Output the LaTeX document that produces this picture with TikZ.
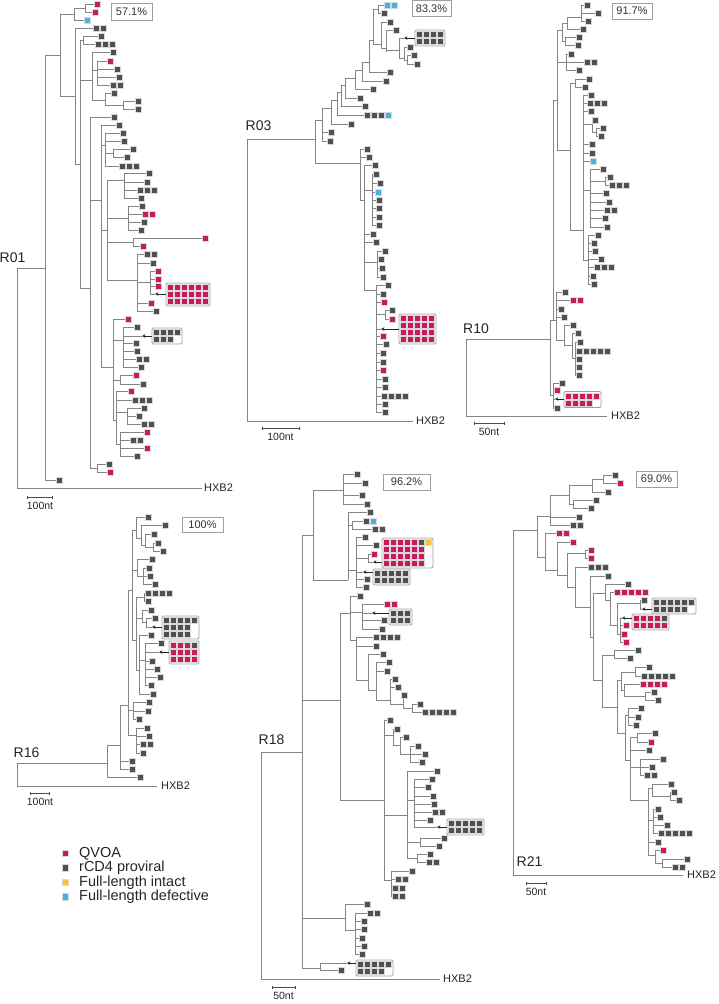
\documentclass[tikz,border=0pt]{standalone}
\usepackage{fontspec}
\setmainfont{Liberation Sans}
\usetikzlibrary{arrows.meta}
\definecolor{colm}{HTML}{CB1A5C}
\definecolor{colg}{HTML}{505050}
\definecolor{colb}{HTML}{45B3E6}
\definecolor{coly}{HTML}{F6C535}
\definecolor{brc}{HTML}{858585}
\tikzset{
  br/.style={draw=brc, line width=0.7pt},
  sqline/.style={draw=white!70!gray, line width=0.3pt},
  boxst/.style={draw=gray!75, line width=0.8pt, fill=white, rounded corners=1.2pt},
  arrst/.style={draw=black!85, line width=0.5pt, -{Stealth[length=3.4pt,width=3.4pt]}},
  sbst/.style={draw=black!70, line width=0.5pt},
  pct/.style={draw=gray!75, line width=0.6pt, fill=white, inner sep=0pt, font=\fontsize{11}{12}\selectfont, text=black!80},
  rlab/.style={font=\fontsize{14}{15}\selectfont, text=black!85, inner sep=0pt},
  hxlab/.style={font=\fontsize{11}{12}\selectfont, text=black!85, inner sep=0pt, anchor=west},
  sclab/.style={font=\fontsize{10.5}{11}\selectfont, text=black!85, inner sep=0pt},
  leglab/.style={font=\fontsize{14.5}{15}\selectfont, text=black!85, inner sep=0pt, anchor=west}
}
\newcommand{\tvl}[3]{\draw[br] (#1,#2) -- (#1,#3);}
\newcommand{\thl}[3]{\draw[br] (#1,#3) -- (#2,#3);}
\newcommand{\tlf}[4]{\draw[br] (#1,#3) -- ({#2-3},#3);
  \foreach \c [count=\i from 0] in {#4} {\filldraw[fill=col\c,sqline] ({#2-3+7*\i},{#3-3}) rectangle ++(6,6);}}
\newcommand{\tgr}[3]{\foreach \c [count=\i from 0] in {#3} {\filldraw[fill=col\c,sqline] ({#1+1.5+7*\i},{#2-0.25}) rectangle ++(6,6);}}
\newcommand{\tbx}[4]{\draw[boxst] (#1,#2) rectangle ++({7*#3+2},{7*#4+2});}
\newcommand{\tar}[3]{\draw[arrst] (#1,#3) -- (#2,#3);}
\newcommand{\tsb}[3]{\draw[sbst] (#1,#3) -- (#2,#3) (#1,{#3-1.5}) -- (#1,{#3+1.5}) (#2,{#3-1.5}) -- (#2,{#3+1.5});}
\begin{document}
\begin{tikzpicture}[x=1pt,y=-1pt]
\useasboundingbox[fill=white] (0,0) rectangle (718,1004);

% ================= R01 =================
\draw[br] (17,268) -- (17,488) -- (202,488);
\node[hxlab] (hx01) at (204,488) {HXB2};
\node[rlab] (r01) at (12.5,258) {R01};
\thl{17}{45}{268}
\tvl{45}{55}{480}
\tlf{45}{59}{480}{g}
\thl{45}{60}{55}
\tvl{60}{14}{96}
\thl{60}{74}{14}
\tvl{74}{8}{20}
\thl{74}{85}{8}
\tvl{85}{4}{12}
\tlf{85}{97}{4}{m}
\tlf{85}{95}{12}{m}
\tlf{74}{87}{20}{b}
\thl{60}{75}{96}
\tvl{75}{28}{164}
\tlf{75}{96}{28}{g,g}
\thl{75}{80}{164}
\tvl{80}{40}{288}
\thl{80}{83}{40}
\tvl{83}{36}{44}
\tlf{83}{101}{36}{g}
\tlf{83}{98}{44}{g,g,g}
\thl{80}{92}{80}
\tvl{92}{52}{100}
\tlf{92}{113}{52}{g}
\thl{92}{97}{70}
\tvl{97}{61}{85}
\tlf{97}{110}{61}{m}
\tlf{97}{117}{69}{g}
\tlf{97}{119}{77}{g}
\tlf{97}{113}{85}{g,g}
\thl{92}{105}{100}
\tvl{105}{93}{105}
\tlf{105}{114}{93}{g}
\thl{105}{123}{105}
\tvl{123}{101}{109}
\tlf{123}{138}{101}{g}
\tlf{123}{138}{109}{g}
\thl{80}{90}{288}
\tvl{90}{117}{468}
\tlf{90}{114}{117}{g}
\thl{90}{101}{200}
\tvl{101}{125}{367}
\tlf{101}{119}{125}{g}
\thl{101}{105}{145}
\tvl{105}{133}{166}
\tlf{105}{123}{133}{g}
\tlf{105}{124}{141}{g}
\thl{105}{113}{153}
\tvl{113}{149}{157}
\tlf{113}{133}{149}{g}
\tlf{113}{127}{157}{g}
\tlf{105}{122}{166}{g,g,g}
\thl{101}{107}{230}
\tvl{107}{180}{280}
\thl{107}{124}{180}
\tvl{124}{173}{198}
\tlf{124}{149}{173}{g}
\tlf{124}{147}{182}{g}
\tlf{124}{140}{190}{g,g,g}
\tlf{124}{141}{198}{g}
\thl{107}{128}{218}
\tvl{128}{206}{230}
\tlf{128}{142}{206}{g}
\tlf{128}{145}{214}{m,m}
\tlf{128}{144}{222}{g}
\tlf{128}{141}{230}{g}
\thl{107}{133}{242}
\tvl{133}{238}{246}
\tlf{133}{205}{238}{m}
\tlf{133}{143}{246}{m}
\thl{107}{137}{280}
\tvl{137}{254}{311}
\tlf{137}{147}{254}{g,g}
\tlf{137}{153}{263}{g}
\thl{137}{150}{282}
\tvl{150}{271}{294}
\tlf{150}{158}{271}{m}
\tlf{150}{158}{279}{m}
\tlf{150}{158}{286}{m}
\thl{150}{155}{294}
\tlf{137}{151}{303}{m}
\tlf{137}{156}{311}{g}
\tbx{166}{283}{6}{3}
\tgr{166}{284.75}{m,m,m,m,m,m}
\tgr{166}{291.75}{m,m,m,m,m,m}
\tgr{166}{298.75}{m,m,m,m,m,m}
\tar{166}{155}{294}
\thl{101}{113}{367}
\tvl{113}{319}{420}
\tlf{113}{128}{319}{m}
\thl{113}{123}{340}
\tvl{123}{327}{367}
\tlf{123}{137}{327}{g}
\thl{123}{142}{336}
\tlf{123}{136}{343}{g}
\tlf{123}{137}{351}{g}
\tlf{123}{139}{359}{g,g}
\tlf{123}{141}{367}{g}
\tbx{152}{328}{4}{2}
\tgr{152}{329.75}{g,g,g,g}
\tgr{152}{336.75}{g,g,g}
\tar{152}{142}{336}
\thl{113}{120}{380}
\tvl{120}{375}{384}
\tlf{120}{136}{375}{m}
\tlf{120}{143}{384}{g}
\thl{113}{116}{420}
\tvl{116}{391}{444}
\tlf{116}{131}{391}{m}
\tlf{116}{135}{400}{g,g,g}
\thl{116}{127}{412}
\tvl{127}{408}{424}
\tlf{127}{144}{408}{g}
\tlf{127}{139}{416}{g}
\tlf{127}{144}{424}{g,g}
\thl{116}{120}{444}
\tvl{120}{432}{456}
\tlf{120}{147}{432}{m}
\tlf{120}{133}{440}{g,g}
\tlf{120}{147}{448}{m}
\tlf{120}{137}{456}{g}
\thl{90}{97}{468}
\tvl{97}{464}{472}
\tlf{97}{109}{464}{g}
\tlf{97}{110}{472}{m}
\tsb{27}{52}{497}
\node[sclab] (s01) at (40,506) {100nt};
\node[pct, minimum width=41pt, minimum height=17pt] (p01) at (131.5,11.5) {57.1\%};

% ================= R03 =================
\draw[br] (247,139) -- (247,421) -- (413,421);
\node[hxlab] (hx03) at (416,421) {HXB2};
\node[rlab] (r03) at (258.5,126) {R03};
\thl{247}{315}{139}
\tvl{315}{120}{163}
\thl{315}{322}{120}
\tvl{322}{108}{141}
\tlf{322}{331}{132}{g}
\tlf{322}{330}{141}{g}
\thl{322}{331}{108}
\tvl{331}{100}{124}
\tlf{331}{351}{124}{g}
\thl{331}{337}{100}
\tvl{337}{92}{115}
\tlf{337}{367}{115}{g,g,g,b}
\thl{337}{341}{92}
\tvl{341}{85}{106}
\tlf{341}{365}{106}{g}
\thl{341}{345}{85}
\tvl{345}{78}{98}
\tlf{345}{360}{98}{g}
\thl{345}{355}{78}
\tvl{355}{70}{89}
\tlf{355}{373}{89}{g}
\thl{355}{362}{70}
\tvl{362}{62}{81}
\tlf{362}{386}{81}{g}
\thl{362}{369}{62}
\tvl{369}{40}{72}
\tlf{369}{390}{72}{g}
\thl{369}{373}{40}
\tvl{373}{9}{44}
\thl{373}{378}{9}
\tvl{378}{5}{13}
\tlf{378}{387}{5}{b,b}
\tlf{378}{384}{13}{g}
\thl{373}{381}{44}
\tvl{381}{22}{48}
\tlf{381}{390}{22}{g}
\thl{381}{386}{48}
\tvl{386}{30}{52}
\tlf{386}{396}{30}{g}
\thl{386}{399}{50}
\tvl{399}{38}{58}
\thl{399}{404}{38}
\thl{399}{404}{58}
\tvl{404}{47}{60}
\tlf{404}{410}{47}{g}
\thl{404}{407}{60}
\tvl{407}{55}{64}
\tlf{407}{414}{55}{g}
\tlf{407}{417}{64}{g}
\tbx{415}{30}{4}{2}
\tgr{415}{31.75}{g,g,g,g}
\tgr{415}{38.75}{g,g,g,g}
\tar{415}{404}{38}
\thl{315}{360}{163}
\tvl{360}{149}{200}
\tlf{360}{367}{149}{g}
\tlf{360}{369}{157}{g}
\thl{360}{364}{200}
\tvl{364}{165}{290}
\tlf{364}{375}{165}{g}
\thl{364}{372}{190}
\tvl{372}{174}{225}
\tlf{372}{376}{174}{g}
\tlf{372}{380}{183}{g}
\tlf{372}{378}{192}{b}
\tlf{372}{379}{200}{g}
\tlf{372}{379}{208}{g}
\tlf{372}{379}{217}{g}
\tlf{372}{379}{225}{g}
\tlf{364}{373}{234}{g}
\tlf{364}{376}{242}{g}
\thl{364}{377}{262}
\tvl{377}{251}{277}
\tlf{377}{385}{251}{g}
\tlf{377}{381}{259}{g}
\tlf{377}{382}{268}{g}
\tlf{377}{383}{277}{g}
\thl{364}{376}{290}
\tvl{376}{285}{412}
\tlf{376}{388}{285}{g}
\tlf{376}{383}{294}{g}
\tlf{376}{384}{302}{m}
\thl{376}{385}{314}
\tvl{385}{310}{319}
\tlf{385}{392}{310}{g}
\tlf{385}{392}{319}{m}
\thl{376}{381}{329}
\tlf{376}{383}{336}{m}
\tlf{376}{386}{344}{g}
\tlf{376}{383}{353}{g}
\tlf{376}{383}{362}{g}
\tlf{376}{383}{370}{m}
\tlf{376}{385}{379}{g}
\tlf{376}{385}{387}{g}
\tlf{376}{384}{396}{g,g,g,g}
\tlf{376}{385}{404}{g}
\tlf{376}{385}{412}{g}
\tbx{399}{314}{5}{4}
\tgr{399}{315.75}{m,m,m,m,m}
\tgr{399}{322.75}{m,m,m,m,m}
\tgr{399}{329.75}{m,m,m,m,m}
\tgr{399}{336.75}{m,m,m,m,m}
\tar{399}{381}{329}
\tsb{262}{299}{428}
\node[sclab] (s03) at (280.5,437) {100nt};
\node[pct, minimum width=39pt, minimum height=16pt] (p03) at (431.5,8.5) {83.3\%};

% ================= R10 =================
\draw[br] (466,339) -- (466,416) -- (607,416);
\node[hxlab] (hx10) at (611,416) {HXB2};
\node[rlab] (r10) at (476,329) {R10};
\thl{466}{550}{339}
\tvl{550}{320}{395}
\thl{550}{553}{320}
\tvl{553}{100}{320}
\thl{553}{557}{100}
\tvl{557}{30}{150}
\thl{557}{562}{30}
\tvl{562}{23}{41}
\thl{562}{567}{23}
\tvl{567}{17}{29}
\thl{567}{581}{17}
\tvl{581}{5}{21}
\tlf{581}{587}{5}{g}
\tlf{581}{598}{13}{g}
\tlf{581}{588}{21}{g}
\tlf{567}{583}{29}{g}
\thl{562}{565}{41}
\tvl{565}{37}{45}
\tlf{565}{579}{37}{g}
\tlf{565}{578}{45}{g}
\thl{557}{566}{62}
\tvl{566}{54}{70}
\tlf{566}{571}{54}{g}
\tlf{566}{587}{62}{g,g}
\tlf{566}{579}{70}{g}
\thl{557}{570}{150}
\tvl{570}{83}{230}
\thl{570}{575}{83}
\tvl{575}{79}{87}
\tlf{575}{589}{79}{g}
\tlf{575}{585}{87}{g}
\thl{570}{583}{230}
\tvl{583}{95}{260}
\tlf{583}{591}{95}{g}
\tlf{583}{590}{103}{g,g,g}
\tlf{583}{591}{111}{g}
\thl{583}{592}{124}
\tvl{592}{120}{132}
\tlf{592}{595}{120}{g}
\thl{592}{596}{132}
\tvl{596}{128}{136}
\tlf{596}{603}{128}{g}
\tlf{596}{601}{136}{g}
\tlf{583}{592}{144}{g}
\tlf{583}{592}{153}{g}
\tlf{583}{593}{161}{b}
\thl{583}{590}{190}
\tvl{590}{169}{227}
\tlf{590}{603}{169}{g}
\thl{590}{605}{181}
\tvl{605}{177}{185}
\tlf{605}{610}{177}{g}
\tlf{605}{612}{185}{g,g,g}
\tlf{590}{606}{193}{g}
\tlf{590}{609}{202}{g}
\tlf{590}{607}{210}{g,g}
\tlf{590}{605}{218}{g}
\tlf{590}{607}{227}{g}
\thl{583}{588}{260}
\tvl{588}{235}{284}
\tlf{588}{598}{235}{g}
\tlf{588}{594}{243}{g}
\tlf{588}{595}{251}{g}
\tlf{588}{601}{259}{g}
\tlf{588}{597}{267}{g,g,g}
\tlf{588}{593}{276}{g}
\tlf{588}{594}{284}{g}
\thl{553}{556}{320}
\tvl{556}{292}{340}
\tlf{556}{565}{292}{g}
\tlf{556}{573}{300}{m,m}
\tlf{556}{561}{309}{g}
\tlf{556}{564}{317}{g}
\thl{556}{564}{340}
\tvl{564}{325}{345}
\tlf{564}{573}{325}{g}
\thl{564}{572}{345}
\tvl{572}{333}{358}
\tlf{572}{578}{333}{g}
\thl{572}{575}{358}
\tvl{575}{342}{375}
\tlf{575}{580}{342}{g}
\tlf{575}{579}{351}{g,g,g,g,g}
\tlf{575}{579}{359}{g}
\tlf{575}{579}{367}{g}
\tlf{575}{579}{375}{g}
\thl{550}{553}{395}
\tvl{553}{383}{408}
\tlf{553}{562}{383}{g}
\tlf{553}{557}{390}{m}
\thl{553}{555}{399}
\tlf{553}{557}{408}{g}
\tbx{564}{391.5}{5}{2}
\tgr{564}{393.25}{m,m,m,m,m}
\tgr{564}{400.25}{m,m,m,m}
\tar{564}{555}{399}
\tsb{474}{504}{423}
\node[sclab] (s10) at (489,432) {50nt};
\node[pct, minimum width=40pt, minimum height=16pt] (p10) at (632,11) {91.7\%};

% ================= R16 =================
\draw[br] (17,763) -- (17,786) -- (157,786);
\node[hxlab] (hx16) at (161,786) {HXB2};
\node[rlab] (r16) at (26.5,753) {R16};
\thl{17}{107}{763}
\tvl{107}{745}{777}
\tlf{107}{140}{777}{g}
\thl{107}{120}{745}
\tvl{120}{705}{769}
\tlf{120}{132}{761}{g}
\tlf{120}{132}{769}{g}
\thl{120}{128}{705}
\tvl{128}{590}{735}
\thl{128}{133}{710}
\tvl{133}{702}{719}
\tlf{133}{149}{702}{g}
\tlf{133}{148}{711}{g}
\tlf{133}{139}{719}{g}
\thl{128}{136}{735}
\tvl{136}{728}{753}
\tlf{136}{147}{728}{g}
\tlf{136}{149}{736}{g}
\tlf{136}{143}{744}{g,g}
\tlf{136}{143}{753}{g}
\thl{128}{132}{590}
\tvl{132}{530}{640}
\thl{132}{136}{530}
\tvl{136}{517}{538}
\tlf{136}{148}{517}{g}
\thl{136}{141}{538}
\tvl{141}{525}{545}
\tlf{141}{165}{525}{g}
\thl{141}{145}{545}
\tvl{145}{534}{547}
\tlf{145}{154}{534}{g}
\thl{145}{153}{547}
\tvl{153}{543}{551}
\tlf{153}{158}{543}{g}
\tlf{153}{163}{551}{g}
\thl{132}{137}{570}
\tvl{137}{559}{576}
\tlf{137}{152}{559}{g}
\thl{137}{143}{576}
\tvl{143}{568}{584}
\tlf{143}{149}{568}{g}
\tlf{143}{150}{576}{g}
\tlf{143}{155}{584}{g}
\thl{132}{136}{640}
\tvl{136}{597}{670}
\thl{136}{144}{597}
\tvl{144}{593}{601}
\tlf{144}{148}{593}{g,g,g,g}
\tlf{144}{148}{601}{g}
\thl{136}{142}{618}
\tvl{142}{610}{622}
\tlf{142}{151}{610}{g}
\thl{142}{146}{622}
\tvl{146}{618}{627}
\tlf{146}{155}{618}{g}
\thl{146}{152}{627}
\thl{136}{139}{670}
\tvl{139}{635}{694}
\tlf{139}{151}{635}{g}
\thl{139}{145}{660}
\tvl{145}{643}{685}
\tlf{145}{161}{643}{g}
\thl{145}{159}{652}
\tlf{145}{152}{661}{g}
\tlf{145}{157}{669}{g}
\tlf{145}{160}{677}{g}
\tlf{145}{151}{685}{g}
\tlf{139}{153}{694}{g}
\tbx{162}{616}{5}{3}
\tgr{162}{617.75}{g,g,g,g,g}
\tgr{162}{624.75}{g,g,g,g}
\tgr{162}{631.75}{g,g,g,g}
\tar{162}{152}{627}
\tbx{169}{641}{4}{3}
\tgr{169}{642.75}{m,m,m,g}
\tgr{169}{649.75}{m,m,m,m}
\tgr{169}{656.75}{m,m,m,m}
\tar{169}{159}{652}
\tsb{30}{49}{793}
\node[sclab] (s16) at (40,802) {100nt};
\node[pct, minimum width=41pt, minimum height=15pt] (p16) at (202.5,524.5) {100\%};

% ================= R18 =================
\draw[br] (261,752) -- (261,979) -- (440,979);
\node[hxlab] (hx18) at (443,979) {HXB2};
\node[rlab] (r18) at (271.5,740) {R18};
\thl{261}{302}{752}
\tvl{302}{535}{968}
\thl{302}{313}{535}
\tvl{313}{490}{580}
\thl{313}{343}{490}
\tvl{343}{474}{504}
\tlf{343}{357}{474}{g}
\tlf{343}{365}{483}{g}
\tlf{343}{362}{495}{g}
\tlf{343}{367}{504}{g}
\thl{313}{348}{580}
\tvl{348}{512}{580}
\tlf{348}{370}{512}{g}
\thl{348}{352}{525}
\tvl{352}{521}{529}
\tlf{352}{366}{521}{g,b}
\tlf{352}{375}{529}{g,g}
\thl{348}{356}{570}
\tvl{356}{537}{587}
\tlf{356}{365}{537}{g}
\tlf{356}{376}{545}{g}
\thl{356}{368}{558}
\tvl{368}{554}{562}
\tlf{368}{374}{554}{m}
\thl{368}{373}{562}
\thl{356}{363}{572}
\tlf{356}{367}{579}{g}
\tlf{356}{366}{587}{g}
\tbx{382}{538}{7}{4}
\tgr{382}{539.75}{m,m,m,m,m,g,y}
\tgr{382}{546.75}{m,m,m,m,m,m}
\tgr{382}{553.75}{m,m,m,m,m,m}
\tgr{382}{560.75}{m,m,m,m,m,m}
\tar{382}{373}{562}
\tbx{373}{569}{5}{2}
\tgr{373}{570.75}{g,g,g,g,g}
\tgr{373}{577.75}{g,g,g,g,g}
\tar{373}{363}{572}
\thl{302}{340}{700}
\tvl{340}{613}{800}
\thl{340}{350}{613}
\tvl{350}{596}{640}
\tlf{350}{360}{596}{g}
\thl{350}{362}{612}
\tvl{362}{604}{629}
\tlf{362}{387}{604}{m,m}
\thl{362}{372}{613}
\tlf{362}{384}{620}{g}
\tlf{362}{382}{629}{g}
\tbx{389}{609}{3}{2}
\tgr{389}{610.75}{g,g,g}
\tgr{389}{617.75}{g,g,g}
\tar{389}{372}{613}
\thl{350}{356}{640}
\tvl{356}{637}{680}
\tlf{356}{376}{637}{g,g,g,g}
\tlf{356}{376}{646}{g}
\thl{356}{368}{680}
\tvl{368}{654}{690}
\tlf{368}{383}{654}{g}
\thl{368}{376}{690}
\tvl{376}{662}{700}
\tlf{376}{389}{662}{g}
\tlf{376}{387}{671}{g}
\thl{376}{390}{700}
\tvl{390}{679}{704}
\tlf{390}{395}{679}{g}
\tlf{390}{398}{687}{g}
\thl{390}{403}{704}
\tvl{403}{695}{708}
\tlf{403}{404}{695}{g}
\thl{403}{412}{708}
\tvl{412}{704}{712}
\tlf{412}{420}{704}{g}
\tlf{412}{425}{712}{g,g,g,g,g}
\thl{340}{384}{800}
\tvl{384}{720}{880}
\tlf{384}{390}{720}{g}
\thl{384}{393}{735}
\tvl{393}{729}{745}
\tlf{393}{397}{729}{g}
\thl{393}{400}{745}
\tvl{400}{737}{754}
\tlf{400}{406}{737}{g}
\thl{400}{410}{754}
\tvl{410}{746}{762}
\tlf{410}{418}{746}{g}
\tlf{410}{425}{754}{g}
\tlf{410}{422}{762}{g}
\thl{384}{407}{815}
\tvl{407}{771}{858}
\tlf{407}{437}{771}{g}
\thl{407}{414}{800}
\tvl{414}{779}{827}
\tlf{414}{432}{779}{g}
\tlf{414}{428}{787}{g}
\tlf{414}{433}{796}{g}
\tlf{414}{434}{804}{g}
\tlf{414}{435}{812}{g,g}
\tlf{414}{430}{820}{g}
\thl{414}{437}{827}
\tbx{447}{819}{5}{2}
\tgr{447}{820.75}{g,g,g,g,g}
\tgr{447}{827.75}{g,g,g,g,g}
\tar{447}{437}{827}
\thl{407}{420}{842}
\tvl{420}{838}{846}
\tlf{420}{444}{838}{g}
\tlf{420}{439}{846}{g}
\thl{407}{417}{858}
\tvl{417}{854}{862}
\tlf{417}{430}{854}{g}
\tlf{417}{429}{862}{g,g}
\thl{384}{391}{880}
\tvl{391}{871}{896}
\tlf{391}{412}{871}{g}
\tlf{391}{398}{879}{g,g}
\tlf{391}{395}{888}{g,g}
\tlf{391}{395}{896}{g,g}
\thl{302}{345}{918}
\tvl{345}{904}{930}
\tlf{345}{367}{904}{g}
\thl{345}{355}{930}
\tvl{355}{913}{954}
\tlf{355}{370}{913}{g,g}
\tlf{355}{364}{921}{g}
\tlf{355}{364}{929}{g}
\tlf{355}{362}{938}{g}
\tlf{355}{364}{946}{g}
\tlf{355}{362}{954}{g}
\thl{302}{320}{968}
\tvl{320}{963}{970}
\thl{320}{347}{963}
\tlf{320}{341}{970}{g}
\tbx{356}{960}{5}{2}
\tgr{356}{961.75}{g,g,g,g,g}
\tgr{356}{968.75}{g,g,g,g}
\tar{356}{347}{963}
\tsb{272}{295}{987}
\node[sclab] (s18) at (283.5,996) {50nt};
\node[pct, minimum width=47pt, minimum height=16pt] (p18) at (406.5,482) {96.2\%};

% ================= R21 =================
\draw[br] (513,530) -- (513,875) -- (683,875);
\node[hxlab] (hx21) at (687,875) {HXB2};
\node[rlab] (r21) at (529.5,862) {R21};
\thl{513}{537}{530}
\tvl{537}{516}{557}
\thl{537}{550}{516}
\tvl{550}{495}{525}
\thl{550}{569}{495}
\tvl{569}{485}{504}
\thl{569}{592}{485}
\tvl{592}{479}{492}
\thl{592}{603}{479}
\tvl{603}{475}{483}
\tlf{603}{615}{475}{g}
\tlf{603}{620}{483}{m}
\tlf{592}{608}{492}{g}
\thl{569}{573}{504}
\tvl{573}{500}{508}
\tlf{573}{596}{500}{g}
\tlf{573}{591}{508}{g}
\tlf{550}{579}{517}{g}
\tlf{550}{573}{525}{g,g}
\thl{537}{545}{557}
\tvl{545}{533}{570}
\tlf{545}{559}{533}{m,m}
\thl{545}{557}{570}
\tvl{557}{542}{575}
\tlf{557}{573}{542}{m}
\thl{557}{567}{575}
\tvl{567}{553}{587}
\thl{567}{585}{553}
\tvl{585}{550}{558}
\tlf{585}{591}{550}{m}
\tlf{585}{591}{558}{m}
\thl{567}{575}{587}
\tvl{575}{567}{607}
\tlf{575}{591}{567}{g,g,g}
\thl{575}{590}{607}
\tvl{590}{576}{637}
\tlf{590}{608}{576}{g}
\thl{590}{593}{637}
\tvl{593}{593}{680}
\thl{593}{605}{593}
\tvl{605}{584}{600}
\tlf{605}{628}{584}{g}
\thl{605}{610}{600}
\tvl{610}{592}{625}
\tlf{610}{617}{592}{m,m,m,m,m}
\thl{610}{617}{625}
\tvl{617}{603}{634}
\thl{617}{640}{603}
\tvl{640}{600}{609}
\tlf{640}{644}{600}{g}
\thl{640}{642}{609}
\tbx{652}{598}{6}{2}
\tgr{652}{599.75}{g,g,g,g,g,g}
\tgr{652}{606.75}{g,g,g,g,g}
\tar{652}{642}{609}
\thl{617}{620}{634}
\tvl{620}{618}{642}
\thl{620}{622}{618}
\tlf{620}{626}{625}{m}
\tlf{620}{624}{634}{m}
\tlf{620}{626}{642}{m}
\tbx{632}{614}{5}{2}
\tgr{632}{615.75}{m,m,m,m,g}
\tgr{632}{622.75}{m,m,m,m,m}
\tar{632}{622}{618}
\thl{593}{602}{680}
\tvl{602}{655}{707}
\thl{602}{614}{655}
\tvl{614}{650}{658}
\tlf{614}{638}{650}{g}
\tlf{614}{630}{658}{g}
\thl{602}{617}{707}
\tvl{617}{680}{733}
\thl{617}{621}{680}
\tvl{621}{672}{690}
\thl{621}{635}{672}
\tvl{635}{667}{676}
\tlf{635}{649}{667}{g}
\tlf{635}{644}{676}{g,g,g,g,g}
\thl{621}{624}{690}
\tvl{624}{684}{696}
\tlf{624}{643}{684}{m,m,m,m}
\thl{624}{645}{696}
\tvl{645}{692}{700}
\tlf{645}{654}{692}{g}
\tlf{645}{658}{700}{g}
\thl{617}{625}{733}
\tvl{625}{715}{760}
\thl{625}{628}{715}
\tvl{628}{708}{725}
\tlf{628}{641}{708}{g}
\tlf{628}{638}{717}{g}
\tlf{628}{636}{725}{g}
\thl{625}{630}{760}
\tvl{630}{737}{800}
\thl{630}{637}{737}
\tvl{637}{733}{742}
\tlf{637}{655}{733}{g}
\tlf{637}{651}{742}{m}
\tlf{630}{649}{750}{g}
\thl{630}{640}{767}
\tvl{640}{759}{775}
\tlf{640}{663}{759}{g}
\tlf{640}{652}{767}{g}
\tlf{640}{647}{775}{g,g}
\thl{630}{648}{800}
\tvl{648}{788}{855}
\thl{648}{652}{788}
\tvl{652}{784}{796}
\tlf{652}{671}{784}{g}
\thl{652}{670}{796}
\tvl{670}{792}{800}
\tlf{670}{674}{792}{g}
\tlf{670}{679}{800}{g}
\thl{648}{653}{820}
\tvl{653}{809}{833}
\tlf{653}{658}{809}{g}
\tlf{653}{660}{817}{g}
\tlf{653}{667}{825}{g}
\tlf{653}{661}{833}{g,g,g,g,g}
\tlf{648}{658}{842}{g}
\thl{648}{655}{855}
\tvl{655}{850}{863}
\tlf{655}{663}{850}{m}
\thl{655}{662}{863}
\tvl{662}{859}{867}
\tlf{662}{687}{859}{g}
\tlf{662}{675}{867}{g,g}
\tsb{526}{546}{883}
\node[sclab] (s21) at (536,892) {50nt};
\node[pct, minimum width=41pt, minimum height=16pt] (p21) at (656.5,479) {69.0\%};

% ================= Legend =================
\filldraw[fill=colm,sqline] (62,850) rectangle ++(6.5,6.5);
\filldraw[fill=colg,sqline] (62,864.5) rectangle ++(6.5,6.5);
\filldraw[fill=coly,sqline] (62,879) rectangle ++(6.5,6.5);
\filldraw[fill=colb,sqline] (62,893.5) rectangle ++(6.5,6.5);
\node[leglab] (l1) at (79,853.3) {QVOA};
\node[leglab] (l2) at (79,867.7) {rCD4 proviral};
\node[leglab] (l3) at (79,882.3) {Full-length intact};
\node[leglab] (l4) at (79,896.7) {Full-length defective};
\end{tikzpicture}
\end{document}
